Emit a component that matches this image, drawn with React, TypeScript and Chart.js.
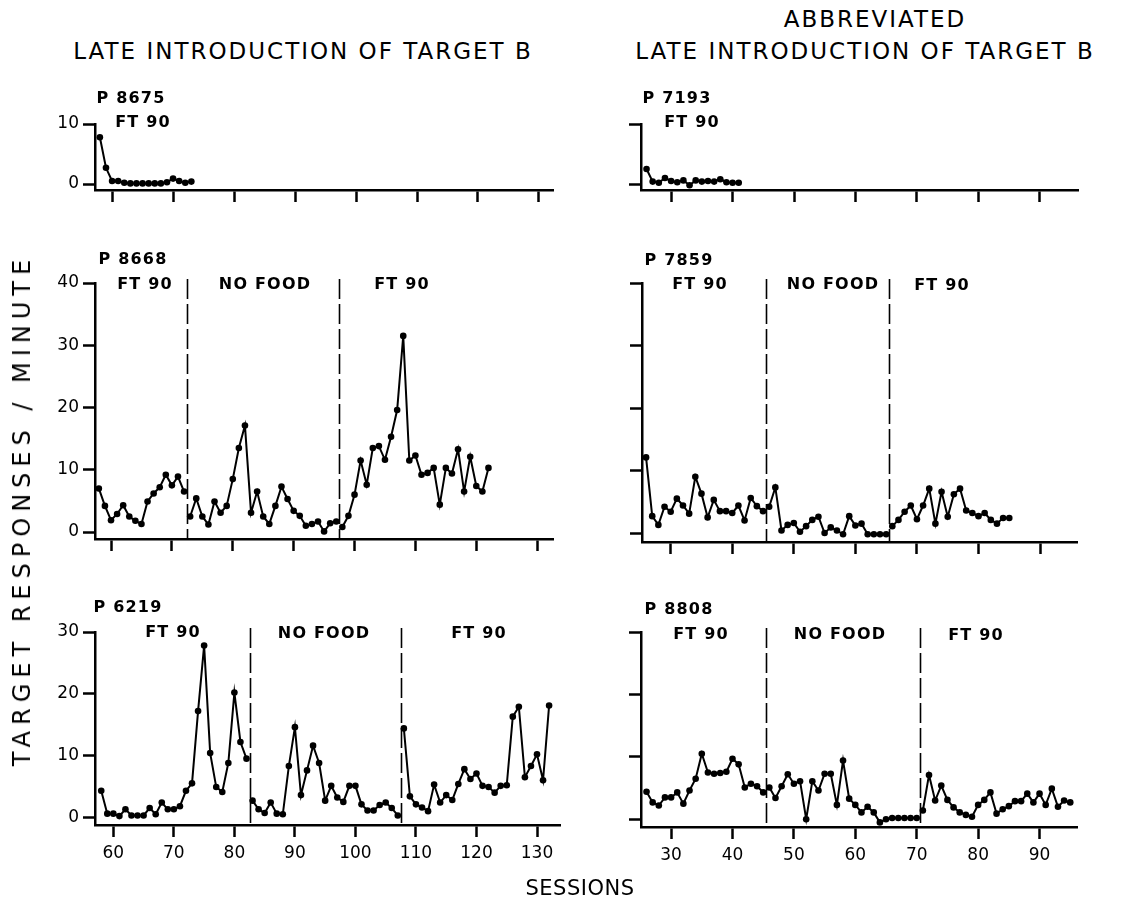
import React, { useEffect, useRef } from "react";
import { Chart, registerables } from "chart.js";

Chart.register(...registerables);

const FONT = "'DejaVu Sans', 'Liberation Sans', sans-serif";

// ---------------- DATA ----------------
// P 8675 (left, top)
const sessions8675 = [58, 59, 60, 61, 62, 63, 64, 65, 66, 67, 68, 69, 70, 71, 72, 73];
const values8675 = [7.8, 2.7, 0.5, 0.5, 0.2, 0.1, 0.1, 0.1, 0.1, 0.1, 0.1, 0.3, 0.9, 0.5, 0.2, 0.4];

// P 7193 (right, top)
const sessions7193 = [26, 27, 28, 29, 30, 31, 32, 33, 34, 35, 36, 37, 38, 39, 40, 41];
const values7193 = [2.5, 0.4, 0.2, 1.0, 0.5, 0.3, 0.6, -0.2, 0.6, 0.4, 0.5, 0.4, 0.8, 0.3, 0.2, 0.2];

// P 8668 (left, middle)
const sessions8668 = [
  58, 59, 60, 61, 62, 63, 64, 65, 66, 67, 68, 69, 70, 71, 72,
  73, 74, 75, 76, 77, 78, 79, 80, 81, 82, 83, 84, 85, 86, 87, 88, 89, 90, 91, 92, 93, 94, 95, 96, 97,
  98, 99, 100, 101, 102, 103, 104, 105, 106, 107, 108, 109, 110, 111, 112, 113, 114, 115, 116, 117, 118, 119, 120, 121, 122,
];
const values8668 = [
  7.0, 4.2, 1.9, 2.9, 4.3, 2.5, 1.8, 1.3, 4.9, 6.2, 7.2, 9.2, 7.5, 8.9, 6.5,
  2.5, 5.4, 2.5, 1.2, 4.9, 3.1, 4.2, 8.5, 13.5, 17.1, 3.1, 6.5, 2.5, 1.3, 4.2, 7.3, 5.3, 3.4, 2.6, 1.0, 1.3, 1.7, 0.1, 1.4, 1.7,
  0.8, 2.6, 6.0, 11.5, 7.6, 13.5, 13.8, 11.6, 15.3, 19.6, 31.5, 11.5, 12.3, 9.2, 9.5, 10.3, 4.4, 10.3, 9.4, 13.3, 6.5, 12.1, 7.4, 6.5, 10.3,
];
const breaks8668 = [72.5, 97.5];

// P 7859 (right, middle)
const sessions7859 = [
  26, 27, 28, 29, 30, 31, 32, 33, 34, 35, 36, 37, 38, 39, 40, 41, 42, 43, 44, 45,
  46, 47, 48, 49, 50, 51, 52, 53, 54, 55, 56, 57, 58, 59, 60, 61, 62, 63, 64, 65,
  66, 67, 68, 69, 70, 71, 72, 73, 74, 75, 76, 77, 78, 79, 80, 81, 82, 83, 84, 85,
];
const values7859 = [
  12.1, 2.7, 1.3, 4.2, 3.4, 5.5, 4.4, 3.1, 9.0, 6.3, 2.5, 5.3, 3.5, 3.5, 3.2, 4.4, 2.0, 5.6, 4.3, 3.5,
  4.2, 7.3, 0.4, 1.3, 1.6, 0.2, 1.1, 2.1, 2.6, 0.0, 0.9, 0.4, -0.2, 2.7, 1.2, 1.5, -0.2, -0.2, -0.2, -0.2,
  1.1, 2.1, 3.4, 4.4, 2.2, 4.4, 7.1, 1.5, 6.6, 2.6, 6.2, 7.1, 3.6, 3.2, 2.7, 3.2, 2.1, 1.5, 2.4, 2.4,
];
const breaks7859 = [45.5, 65.5];

// P 6219 (left, bottom)
const sessions6219 = [
  58, 59, 60, 61, 62, 63, 64, 65, 66, 67, 68, 69, 70, 71, 72, 73, 74, 75, 76, 77, 78, 79, 80, 81, 82,
  83, 84, 85, 86, 87, 88, 89, 90, 91, 92, 93, 94, 95, 96, 97, 98, 99, 100, 101, 102, 103, 104, 105, 106, 107,
  108, 109, 110, 111, 112, 113, 114, 115, 116, 117, 118, 119, 120, 121, 122, 123, 124, 125, 126, 127, 128, 129, 130, 131, 132,
];
const values6219 = [
  4.3, 0.6, 0.6, 0.2, 1.3, 0.3, 0.3, 0.3, 1.5, 0.5, 2.4, 1.3, 1.3, 1.8, 4.3, 5.5, 17.2, 27.8, 10.4, 4.9, 4.1, 8.8, 20.2, 12.2, 9.5,
  2.7, 1.3, 0.7, 2.4, 0.6, 0.5, 8.3, 14.6, 3.6, 7.6, 11.6, 8.8, 2.7, 5.1, 3.2, 2.5, 5.1, 5.1, 2.1, 1.1, 1.1, 2.0, 2.4, 1.5, 0.3,
  14.4, 3.4, 2.1, 1.6, 1.0, 5.3, 2.4, 3.6, 2.8, 5.4, 7.8, 6.2, 7.1, 5.1, 4.9, 4.0, 5.1, 5.2, 16.3, 17.9, 6.5, 8.3, 10.2, 6.0, 18.1,
];
const breaks6219 = [82.5, 107.5];

// P 8808 (right, bottom)
const sessions8808 = [
  26, 27, 28, 29, 30, 31, 32, 33, 34, 35, 36, 37, 38, 39, 40, 41, 42, 43, 44, 45,
  46, 47, 48, 49, 50, 51, 52, 53, 54, 55, 56, 57, 58, 59, 60, 61, 62, 63, 64, 65, 66, 67, 68, 69, 70,
  71, 72, 73, 74, 75, 76, 77, 78, 79, 80, 81, 82, 83, 84, 85, 86, 87, 88, 89, 90, 91, 92, 93, 94, 95,
];
const values8808 = [
  4.4, 2.7, 2.2, 3.5, 3.5, 4.3, 2.5, 4.6, 6.5, 10.5, 7.5, 7.3, 7.4, 7.6, 9.7, 8.8, 5.1, 5.7, 5.3, 4.3,
  5.1, 3.4, 5.3, 7.2, 5.7, 6.1, 0.0, 6.1, 4.6, 7.3, 7.3, 2.3, 9.4, 3.3, 2.3, 1.1, 2.0, 1.1, -0.5, 0.0, 0.2, 0.2, 0.2, 0.2, 0.2,
  1.4, 7.1, 3.0, 5.4, 3.1, 1.9, 1.1, 0.7, 0.4, 2.3, 3.1, 4.3, 0.9, 1.6, 2.1, 2.9, 2.9, 4.1, 2.7, 4.1, 2.3, 4.9, 2.0, 3.0, 2.7,
];
const breaks8808 = [45.5, 70.5];

// Tick labels
const leftXTicks = [60, 70, 80, 90, 100, 110, 120, 130];
const rightXTicks = [30, 40, 50, 60, 70, 80, 90];
const topYTicks = [0, 10];
const middleYTicks = [0, 10, 20, 30, 40];
const bottomYTicks = [0, 10, 20, 30];

// Text
const leftTitle = "LATE INTRODUCTION OF TARGET B";
const rightTitleTop = "ABBREVIATED";
const rightTitle = "LATE INTRODUCTION OF TARGET B";
const yAxisTitle = "TARGET RESPONSES / MINUTE";
const xAxisTitle = "SESSIONS";
const phaseFood = "FT 90";
const phaseNoFood = "NO FOOD";

// ---------------- LAYOUT ----------------
const Y_W = 70;
const PAD_T = 22;
const PAD_R = 30;
const X_H = 50;

type Area = { left: number; top: number; right: number; bottom: number };
type TextItem = { text: string; x: number; y: number };
type PanelDef = {
  id: string;
  sessions: number[];
  values: number[];
  breaks: number[];
  xTicks: number[];
  yTicks: number[];
  xMin: number;
  xMax: number;
  yMin: number;
  yMax: number;
  area: Area;
  showYLabels: boolean;
  showXLabels: boolean;
  texts: TextItem[];
};

const panels: PanelDef[] = [
  {
    id: "p8675",
    sessions: sessions8675,
    values: values8675,
    breaks: [],
    xTicks: leftXTicks,
    yTicks: topYTicks,
    xMin: 57.2,
    xMax: 132.3,
    yMin: -1.0,
    yMax: 10,
    area: { left: 95, top: 124, right: 553, bottom: 190 },
    showYLabels: true,
    showXLabels: false,
    texts: [
      { text: "P 8675", x: 131, y: 98 },
      { text: phaseFood, x: 143, y: 122 },
    ],
  },
  {
    id: "p7193",
    sessions: sessions7193,
    values: values7193,
    breaks: [],
    xTicks: rightXTicks,
    yTicks: topYTicks,
    xMin: 25.1,
    xMax: 96.2,
    yMin: -1.0,
    yMax: 10,
    area: { left: 641, top: 124, right: 1078, bottom: 190 },
    showYLabels: false,
    showXLabels: false,
    texts: [
      { text: "P 7193", x: 677, y: 98 },
      { text: phaseFood, x: 692, y: 122 },
    ],
  },
  {
    id: "p8668",
    sessions: sessions8668,
    values: values8668,
    breaks: breaks8668,
    xTicks: leftXTicks,
    yTicks: middleYTicks,
    xMin: 57.37,
    xMax: 132.6,
    yMin: -1.12,
    yMax: 40,
    area: { left: 95, top: 283, right: 553, bottom: 539 },
    showYLabels: true,
    showXLabels: false,
    texts: [
      { text: "P 8668", x: 133, y: 259 },
      { text: phaseFood, x: 145, y: 284 },
      { text: phaseNoFood, x: 265, y: 284 },
      { text: phaseFood, x: 402, y: 284 },
    ],
  },
  {
    id: "p7859",
    sessions: sessions7859,
    values: values7859,
    breaks: breaks7859,
    xTicks: rightXTicks,
    yTicks: middleYTicks,
    xMin: 25.34,
    xMax: 96.0,
    yMin: -1.44,
    yMax: 40,
    area: { left: 642, top: 283, right: 1077, bottom: 542 },
    showYLabels: false,
    showXLabels: false,
    texts: [
      { text: "P 7859", x: 679, y: 260 },
      { text: phaseFood, x: 700, y: 284 },
      { text: phaseNoFood, x: 833, y: 284 },
      { text: phaseFood, x: 942, y: 285 },
    ],
  },
  {
    id: "p6219",
    sessions: sessions6219,
    values: values6219,
    breaks: breaks6219,
    xTicks: leftXTicks,
    yTicks: bottomYTicks,
    xMin: 56.97,
    xMax: 133.8,
    yMin: -1.24,
    yMax: 30,
    area: { left: 95, top: 632, right: 560, bottom: 825 },
    showYLabels: true,
    showXLabels: true,
    texts: [
      { text: "P 6219", x: 128, y: 607 },
      { text: phaseFood, x: 173, y: 632 },
      { text: phaseNoFood, x: 324, y: 633 },
      { text: phaseFood, x: 479, y: 633 },
    ],
  },
  {
    id: "p8808",
    sessions: sessions8808,
    values: values8808,
    breaks: breaks8808,
    xTicks: rightXTicks,
    yTicks: bottomYTicks,
    xMin: 25.1,
    xMax: 96.1,
    yMin: -1.24,
    yMax: 30,
    area: { left: 641, top: 632, right: 1077, bottom: 827 },
    showYLabels: false,
    showXLabels: true,
    texts: [
      { text: "P 8808", x: 679, y: 609 },
      { text: phaseFood, x: 701, y: 634 },
      { text: phaseNoFood, x: 840, y: 634 },
      { text: phaseFood, x: 976, y: 635 },
    ],
  },
];

const phaseLinePlugin = {
  id: "phaseLines",
  afterDatasetsDraw(chart: any, _args: any, opts: any) {
    const breaks: number[] = (opts && opts.breaks) || [];
    const { ctx, chartArea, scales } = chart;
    ctx.save();
    ctx.strokeStyle = "#000";
    ctx.lineWidth = 1.6;
    ctx.setLineDash([20, 5]);
    for (const b of breaks) {
      const x = Math.round(scales.x.getPixelForValue(b)) + 0.5;
      ctx.beginPath();
      ctx.moveTo(x, chartArea.top - 4);
      ctx.lineTo(x, chartArea.bottom);
      ctx.stroke();
    }
    ctx.restore();
  },
};

function Panel({ def }: { def: PanelDef }) {
  const ref = useRef<HTMLCanvasElement>(null);
  const w = def.area.right - def.area.left + Y_W + PAD_R;
  const h = def.area.bottom - def.area.top + PAD_T + X_H;

  useEffect(() => {
    if (!ref.current) return;
    const bounds = [-Infinity, ...def.breaks, Infinity];
    const datasets: any[] = [];
    for (let k = 0; k < bounds.length - 1; k++) {
      const pts = def.sessions
        .map((s, i) => ({ x: s, y: def.values[i] }))
        .filter((p) => p.x > bounds[k] && p.x < bounds[k + 1]);
      datasets.push({
        data: pts,
        borderColor: "#000",
        borderWidth: 2,
        backgroundColor: "#000",
        pointRadius: 3.3,
        pointBackgroundColor: "#000",
        pointBorderWidth: 0,
        pointHoverRadius: 3.3,
        tension: 0,
        fill: false,
        clip: 8,
      });
    }
    const chart = new Chart(ref.current, {
      type: "line",
      data: { datasets },
      plugins: [phaseLinePlugin as any],
      options: {
        responsive: false,
        animation: false,
        events: [],
        layout: { padding: { left: 0, top: PAD_T, right: PAD_R, bottom: 0 } },
        plugins: {
          legend: { display: false },
          tooltip: { enabled: false },
          phaseLines: { breaks: def.breaks },
        } as any,
        scales: {
          x: {
            type: "linear",
            min: def.xMin,
            max: def.xMax,
            afterBuildTicks: (axis: any) => {
              axis.ticks = def.xTicks.map((v) => ({ value: v }));
            },
            afterFit: (axis: any) => {
              axis.height = X_H;
            },
            grid: {
              drawOnChartArea: false,
              drawTicks: true,
              tickLength: 12,
              tickWidth: 2.5,
              tickColor: "#000",
            },
            border: { display: true, color: "#000", width: 2.5 },
            ticks: {
              color: "#000",
              font: { family: FONT, size: 17 },
              padding: 6,
              maxRotation: 0,
              autoSkip: false,
              callback: (v: any) => (def.showXLabels ? String(v) : ""),
            },
          },
          y: {
            type: "linear",
            min: def.yMin,
            max: def.yMax,
            afterBuildTicks: (axis: any) => {
              axis.ticks = def.yTicks.map((v) => ({ value: v }));
            },
            afterFit: (axis: any) => {
              axis.width = Y_W;
            },
            grid: {
              drawOnChartArea: false,
              drawTicks: true,
              tickLength: 12,
              tickWidth: 2.5,
              tickColor: "#000",
            },
            border: { display: true, color: "#000", width: 2.5 },
            ticks: {
              color: "#000",
              font: { family: FONT, size: 17 },
              padding: 4,
              autoSkip: false,
              callback: (v: any) => (def.showYLabels ? String(v) : ""),
            },
          },
        },
      } as any,
    });
    return () => chart.destroy();
  }, [def]);

  return (
    <div
      style={{
        position: "absolute",
        left: def.area.left - Y_W,
        top: def.area.top - PAD_T,
        width: w,
        height: h,
      }}
    >
      <canvas ref={ref} width={w} height={h} style={{ width: w, height: h, display: "block" }} />
    </div>
  );
}

function Label({
  text,
  x,
  y,
  size,
  weight,
  spacing,
  rotate,
}: {
  text: string;
  x: number;
  y: number;
  size: number;
  weight?: number;
  spacing?: number;
  rotate?: number;
}) {
  return (
    <div
      style={{
        position: "absolute",
        left: x,
        top: y,
        transform: `translate(-50%, -50%)${rotate ? ` rotate(${rotate}deg)` : ""}`,
        whiteSpace: "nowrap",
        fontFamily: FONT,
        fontSize: size,
        fontWeight: weight ?? 400,
        letterSpacing: spacing ?? 0,
        color: "#000",
        lineHeight: 1,
      }}
    >
      {text}
    </div>
  );
}

export default function App() {
  return (
    <div
      style={{
        position: "absolute",
        left: 0,
        top: 0,
        width: 1122,
        height: 905,
        background: "#fff",
        overflow: "hidden",
      }}
    >
      {panels.map((p) => (
        <Panel key={p.id} def={p} />
      ))}
      <Label text={rightTitleTop} x={875} y={19} size={23} spacing={2} />
      <Label text={leftTitle} x={303} y={51} size={23} spacing={2} />
      <Label text={rightTitle} x={865} y={51} size={23} spacing={2} />
      <Label text={yAxisTitle} x={22} y={510} size={24} spacing={6} rotate={-90} />
      <Label text={xAxisTitle} x={580} y={888} size={21} spacing={0.5} />
      {panels.map((p) =>
        p.texts.map((t, i) => (
          <Label key={`${p.id}-${i}`} text={t.text} x={t.x} y={t.y} size={16} weight={700} spacing={1.2} />
        ))
      )}
    </div>
  );
}
